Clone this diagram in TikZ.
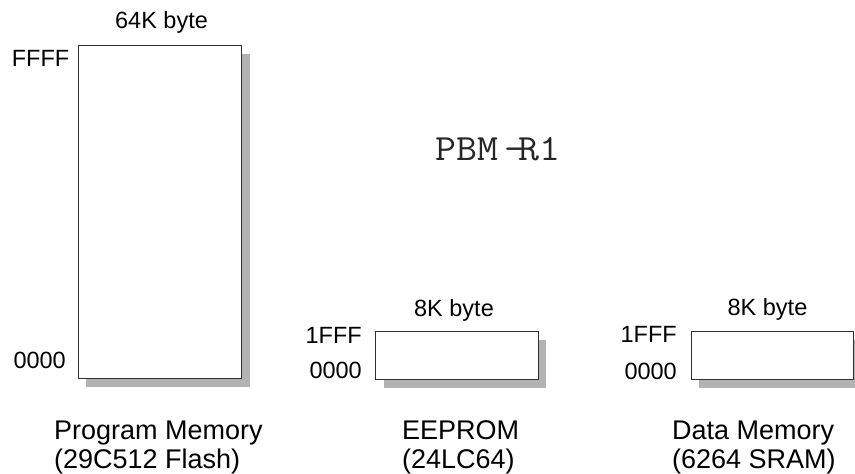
\documentclass[tikz,border=0pt]{standalone}
\usepackage{fontspec}
\usepackage{graphicx}
\setmainfont{Liberation Sans}
\usetikzlibrary{shadows}
\definecolor{shadowgray}{HTML}{B3B3B3}
\definecolor{boxline}{HTML}{303030}
\tikzset{
  membox/.style={draw=boxline, line width=0.9pt, fill=white, inner sep=0pt, outer sep=0pt, anchor=north west,
    drop shadow={shadow xshift=8pt, shadow yshift=-8.5pt, fill=shadowgray, opacity=1, draw=none}},
  toplabel/.style={inner sep=0pt, font=\fontsize{23.5}{26}\selectfont, text=black},
  addrlabel/.style={toplabel, anchor=base east},
  sizelabel/.style={toplabel, anchor=base},
  botlabel/.style={inner sep=0pt, font=\fontsize{27}{29}\selectfont, anchor=base west, text=black},
}
\begin{document}
\begin{tikzpicture}[x=1pt,y=-1pt]
\useasboundingbox (0,0) rectangle (855,474);
% program memory
\node[membox, minimum width=163.7pt, minimum height=333pt] (pm) at (78,45) {};
\node[sizelabel] (pmsize) at (161.5,28) {64K byte};
\node[addrlabel] (pmtop) at (69.5,66) {FFFF};
\node[addrlabel] (pmbot) at (66,368) {0000};
% eeprom
\node[membox, minimum width=162.3pt, minimum height=47.6pt] (ee) at (375.7,331.7) {};
\node[sizelabel] (eesize) at (454,316) {8K byte};
\node[addrlabel] (eetop) at (362,343) {1FFF};
\node[addrlabel] (eebot) at (362,378) {0000};
% data memory
\node[membox, minimum width=162pt, minimum height=47.6pt] (dm) at (691,331.7) {};
\node[sizelabel] (dmsize) at (767.5,315) {8K byte};
\node[addrlabel] (dmtop) at (677,342) {1FFF};
\node[addrlabel] (dmbot) at (677,379) {0000};
% title
\node[inner sep=0pt, anchor=base west, font=\ttfamily\fontsize{37}{40}\selectfont, text=black!85] (title) at (435,160) {\scalebox{1.1}[1]{PBM\kern0.15em-\kern-0.16em R1}};
% bottom labels
\node[botlabel] (pml1) at (54,439) {Program Memory};
\node[botlabel] (pml2) at (54,468) {(29C512 Flash)};
\node[botlabel] (eel1) at (402,439) {EEPROM};
\node[botlabel] (eel2) at (402,468) {(24LC64)};
\node[botlabel] (dml1) at (672,439) {Data Memory};
\node[botlabel] (dml2) at (672,468) {(6264 SRAM)};
\end{tikzpicture}
\end{document}
